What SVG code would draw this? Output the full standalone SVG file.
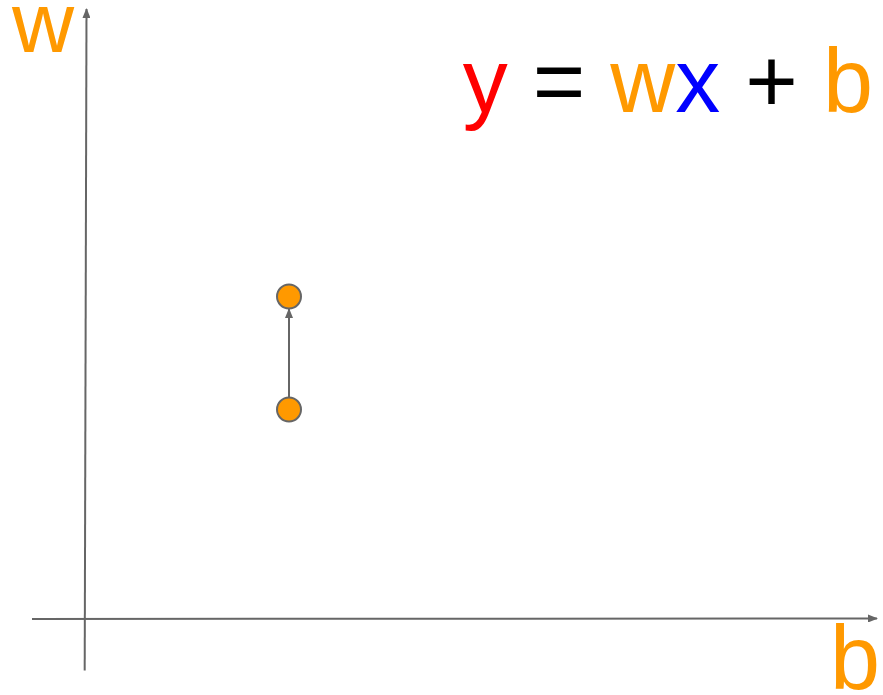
<svg xmlns="http://www.w3.org/2000/svg" width="883" height="695" viewBox="0 0 883 695">
<style>
.ax{stroke:#666;stroke-width:2;fill:none}
.lbl{font-family:"Liberation Sans",Arial,sans-serif}
.or{fill:#ff9900}
.pt{fill:#ff9900;stroke:#666;stroke-width:2}
</style>
<defs>
<marker id="ah" markerWidth="10" markerHeight="8" refX="9" refY="4" orient="auto" markerUnits="userSpaceOnUse">
<path d="M0,0 L10,4 L0,8 Z" fill="#666"/>
</marker>
</defs>
<rect width="883" height="695" fill="#fff"/>
<g id="connectors">
<line class="ax" x1="84.7" y1="670.5" x2="86.5" y2="9" marker-end="url(#ah)"/>
<line class="ax" x1="32" y1="619" x2="877" y2="618.5" marker-end="url(#ah)"/>
<line class="ax" x1="289" y1="397.5" x2="289" y2="309" marker-end="url(#ah)"/>
</g>
<g id="label-w"><text class="lbl or" x="12" y="52" font-size="86">w</text></g>
<g id="label-b"><text class="lbl or" x="830" y="689" font-size="90">b</text></g>
<g id="formula"><text class="lbl" x="873" y="112" font-size="90" text-anchor="end"><tspan fill="#ff0000">y</tspan> = <tspan fill="#ff9900">w</tspan><tspan fill="#0000ff">x</tspan> + <tspan fill="#ff9900">b</tspan></text></g>
<g id="point-top"><circle class="pt" cx="289" cy="296.5" r="12"/></g>
<g id="point-bottom"><circle class="pt" cx="289" cy="409.5" r="12"/></g>
</svg>
